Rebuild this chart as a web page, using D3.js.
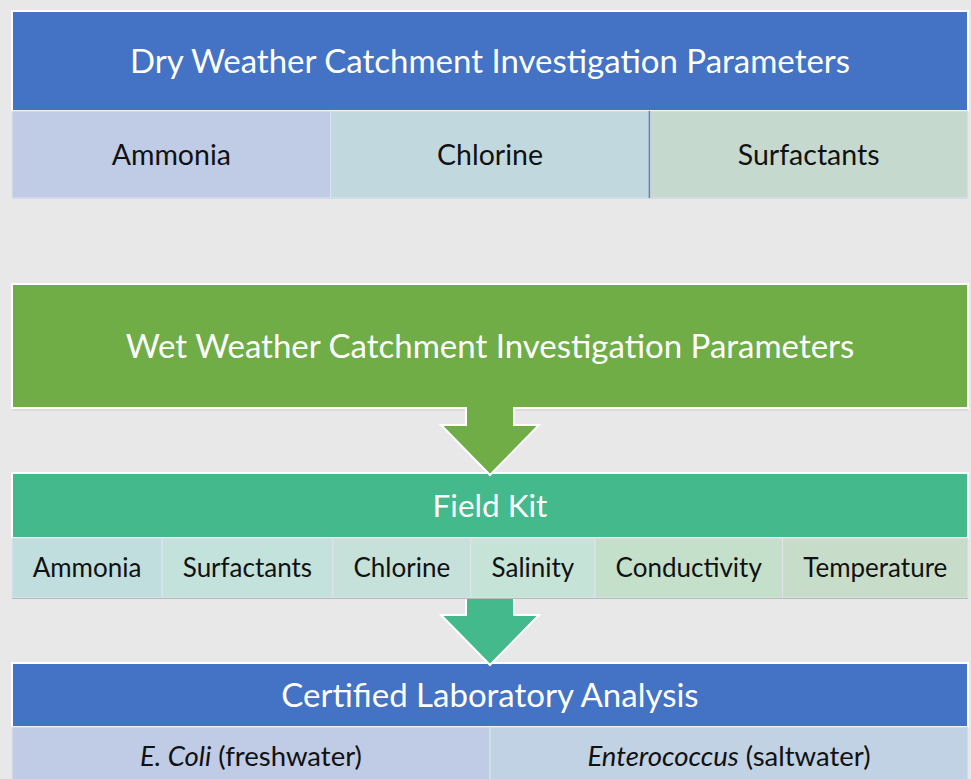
<!DOCTYPE html>
<html><head><meta charset="utf-8">
<script src="https://cdn.jsdelivr.net/npm/d3@7"></script>
<style>body{margin:0;background:#e8e8e8;overflow:hidden} svg{display:block}</style>
</head><body>
<script>
// ---- data ----
const dryTitle = "Dry Weather Catchment Investigation Parameters";
const dryParams = ["Ammonia", "Chlorine", "Surfactants"];
const dryColors = ["#c0cbe6", "#c1d9de", "#c6d9cf"];
const wetTitle = "Wet Weather Catchment Investigation Parameters";
const fieldKitTitle = "Field Kit";
const fieldKitParams = ["Ammonia", "Surfactants", "Chlorine", "Salinity", "Conductivity", "Temperature"];
const fieldKitColors = ["#c1dedf", "#c4e2dc", "#c5e1d9", "#c5e3d6", "#c4e0cb", "#c7ddca"];
const labTitle = "Certified Laboratory Analysis";
const labOrganisms = ["E. Coli", "Enterococcus"];
const labWaterTypes = ["(freshwater)", "(saltwater)"];
const labColors = ["#c0cbe6", "#c1d2e4"];

// ---- layout ----
const W = 971, H = 779;
const X0 = 12, X1 = 968;
const FONT = "Lato, 'Open Sans', sans-serif";
const BLUE = "#4472c4", GREEN = "#70ad47", TEAL = "#44b98b";

const svg = d3.select("body").append("svg").attr("width", W).attr("height", H);
svg.append("rect").attr("width", W).attr("height", H).attr("fill", "#e8e8e8");

function header(y0, y1, fill, text, size) {
  svg.append("rect").attr("x", X0).attr("y", y0).attr("width", X1 - X0).attr("height", y1 - y0)
    .attr("fill", fill).attr("stroke", "#ffffff").attr("stroke-width", 2);
  svg.append("text").attr("x", (X0 + X1) / 2).attr("y", (y0 + y1) / 2).attr("dy", "0.36em")
    .attr("text-anchor", "middle").attr("fill", "#ffffff").attr("font-family", FONT)
    .attr("font-size", size).text(text);
}

function row(y0, y1, labels, colors, size, xs, renderText) {
  const g = svg.append("g");
  labels.forEach((d, i) => {
    const a = xs[i], b = xs[i + 1];
    g.append("rect").attr("x", a).attr("y", y0).attr("width", b - a).attr("height", y1 - y0)
      .attr("fill", colors[i]).attr("stroke", "#dfe4ee").attr("stroke-width", 1);
    const t = g.append("text").attr("x", (a + b) / 2).attr("y", (y0 + y1) / 2).attr("dy", "0.36em")
      .attr("text-anchor", "middle").attr("fill", "#111").attr("font-family", FONT).attr("font-size", size);
    if (renderText) renderText(t, i); else t.text(d);
  });
  return g;
}

function arrow(yTop, yNeck, yTip, fill) {
  const cx = (X0 + X1) / 2 + 0;
  const sw = 24, hw = 49;
  const pts = [[cx - sw, yTop], [cx - sw, yNeck], [cx - hw, yNeck], [cx, yTip], [cx + hw, yNeck], [cx + sw, yNeck], [cx + sw, yTop]];
  svg.append("path").attr("d", d3.line()(pts) + "Z").attr("fill", fill);
  svg.append("path").attr("d", d3.line()(pts)).attr("fill", "none").attr("stroke", "#ffffff")
    .attr("stroke-width", 2).attr("stroke-linejoin", "miter");
}

// Dry block
header(11, 111, BLUE, dryTitle, 33);
const dryX = d3.scaleBand().domain(dryParams).range([X0, X1]);
const dryXs = dryParams.map(d => dryX(d)).concat([X1]);
row(111, 198, dryParams, dryColors, 28.5, dryXs);
svg.append("line").attr("x1", dryXs[2]).attr("x2", dryXs[2]).attr("y1", 111).attr("y2", 198)
  .attr("stroke", "#5b84d0").attr("stroke-width", 1.5);
svg.append("line").attr("x1", X0).attr("x2", X1).attr("y1", 198.5).attr("y2", 198.5).attr("stroke", "#d3d9ea");

// Wet block
header(284, 408, GREEN, wetTitle, 33);
svg.append("line").attr("x1", X0).attr("x2", X1).attr("y1", 410).attr("y2", 410).attr("stroke", "#cfcfcf");

// Field kit block
header(473, 538, TEAL, fieldKitTitle, 31.5);
// measure text widths to size the cells
const FK_SIZE = 26;
const meas = svg.append("text").attr("font-family", FONT).attr("font-size", FK_SIZE).attr("opacity", 0);
const tw = fieldKitParams.map(d => { meas.text(d); return meas.node().getComputedTextLength(); });
meas.remove();
const pad = (X1 - X0 - d3.sum(tw)) / fieldKitParams.length;
const fkXs = [X0];
tw.forEach(w => fkXs.push(fkXs[fkXs.length - 1] + w + pad));
row(538, 598, fieldKitParams, fieldKitColors, FK_SIZE, fkXs);
svg.append("line").attr("x1", X0).attr("x2", X1).attr("y1", 598.5).attr("y2", 598.5).attr("stroke", "#b9b9c2");

// Lab block
header(663, 727, BLUE, labTitle, 33);
const labX = d3.scaleBand().domain(labOrganisms).range([X0, X1]);
const labXs = labOrganisms.map(d => labX(d)).concat([X1]);
row(727, 790, labOrganisms, labColors, 27.5, labXs, (t, i) => {
  t.attr("y", 756);
  t.append("tspan").attr("font-style", "italic").text(labOrganisms[i]);
  t.append("tspan").text(" " + labWaterTypes[i]);
});

// Arrows
arrow(407, 425, 475, GREEN);
arrow(599, 615, 665, TEAL);
</script>
</body></html>
